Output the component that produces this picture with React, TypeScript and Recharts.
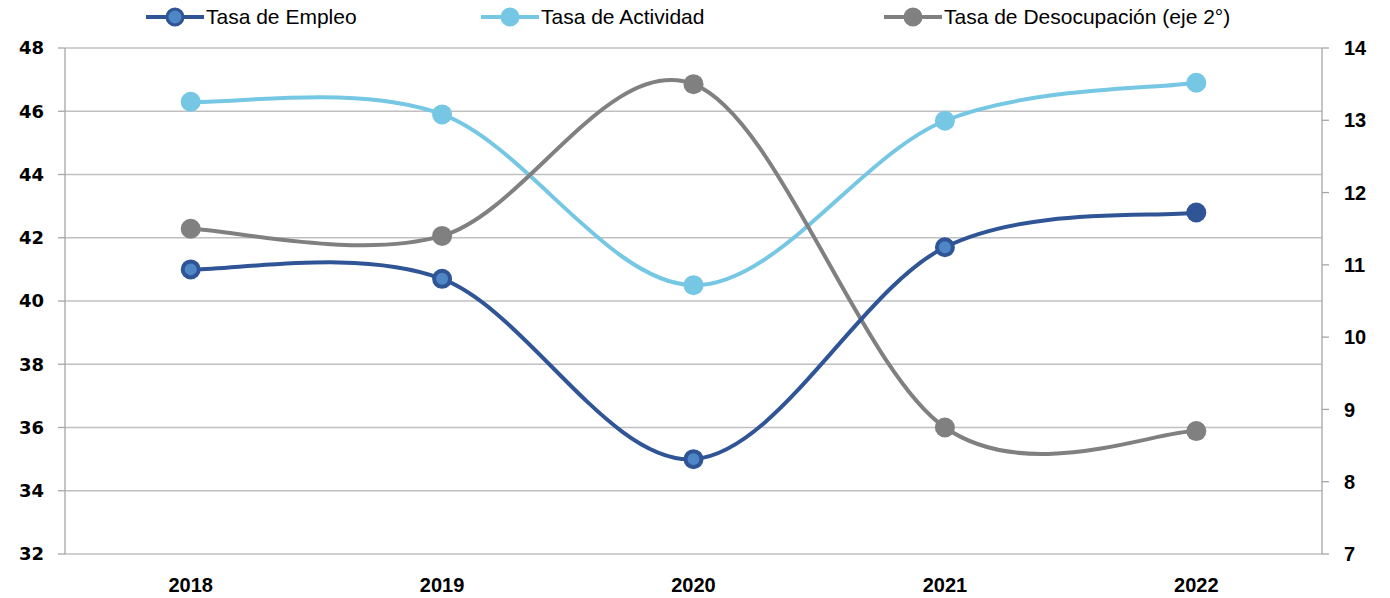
import { CartesianGrid, Legend, Line, LineChart, XAxis, YAxis } from "recharts";

const years = ["2018", "2019", "2020", "2021", "2022"];
const empleo = [41.0, 40.7, 35.0, 41.7, 42.8];
const actividad = [46.3, 45.9, 40.5, 45.7, 46.9];
const desocupacion = [11.5, 11.4, 13.5, 8.75, 8.7];

const leftTicks = [32, 34, 36, 38, 40, 42, 44, 46, 48];
const rightTicks = [7, 8, 9, 10, 11, 12, 13, 14];
const centerTicks = [0, 1, 2, 3, 4];
const edgeTicks = [-0.5, 0.5, 1.5, 2.5, 3.5, 4.5];

const DARK = "#2f5597";
const DARK_IN = "#4f86c6";
const LIGHT = "#75c7e3";
const GRAY = "#808080";
const AXIS = "#a6a6a6";
const GRID = "#c0c0c0";

const data = years.map((year, i) => ({
  i,
  year,
  empleo: empleo[i],
  actividad: actividad[i],
  desocupacion: desocupacion[i],
}));

// Excel-style smoothed line (Catmull-Rom through every point)
function excelSmooth(context: any) {
  let xs: number[] = [];
  let ys: number[] = [];
  return {
    areaStart() {},
    areaEnd() {},
    lineStart() {
      xs = [];
      ys = [];
    },
    point(x: number, y: number) {
      xs.push(+x);
      ys.push(+y);
    },
    lineEnd() {
      const n = xs.length;
      if (!n) return;
      context.moveTo(xs[0], ys[0]);
      for (let k = 0; k < n - 1; k++) {
        const a = Math.max(k - 1, 0);
        const d = Math.min(k + 2, n - 1);
        context.bezierCurveTo(
          xs[k] + (xs[k + 1] - xs[a]) / 6,
          ys[k] + (ys[k + 1] - ys[a]) / 6,
          xs[k + 1] - (xs[d] - xs[k]) / 6,
          ys[k + 1] - (ys[d] - ys[k]) / 6,
          xs[k + 1],
          ys[k + 1]
        );
      }
    },
  };
}

const legendItems = [
  { label: "Tasa de Empleo", color: DARK, inner: DARK_IN, left: 146 },
  { label: "Tasa de Actividad", color: LIGHT, inner: LIGHT, left: 481 },
  { label: "Tasa de Desocupación (eje 2°)", color: GRAY, inner: GRAY, left: 884 },
];

function ChartLegend() {
  return (
    <div style={{ position: "relative", width: 1390, height: 36 }}>
      {legendItems.map((it) => (
        <div
          key={it.label}
          style={{ position: "absolute", left: it.left, top: 5, display: "flex", alignItems: "center", gap: 2 }}
        >
          <svg width={58} height={24}>
            <line x1={0} y1={12} x2={58} y2={12} stroke={it.color} strokeWidth={4} />
            <circle cx={29} cy={12} r={8} fill={it.inner} stroke={it.color} strokeWidth={3} />
          </svg>
          <span style={{ fontFamily: "Liberation Sans, Arial, sans-serif", fontSize: 21, color: "#000" }}>
            {it.label}
          </span>
        </div>
      ))}
    </div>
  );
}

const leftTick = { fontFamily: "DejaVu Sans, Verdana, sans-serif", fontSize: 18, fontWeight: 700, fill: "#000" };
const rightTick = { fontFamily: "Liberation Sans, Arial, sans-serif", fontSize: 20, fontWeight: 700, fill: "#000" };

export default function App() {
  return (
    <div style={{ position: "absolute", left: 0, top: 0, width: 1390, height: 598, background: "#fff" }}>
      <LineChart width={1390} height={598} data={data} margin={{ top: 12, right: 0, bottom: 0, left: 0 }}>
        <CartesianGrid vertical={false} stroke={GRID} strokeWidth={1.3} xAxisId="lbl" yAxisId="left" />
        <XAxis
          xAxisId="edges"
          dataKey="i"
          type="number"
          domain={[-0.5, 4.5]}
          ticks={edgeTicks}
          height={0}
          tick={() => <g />}
          tickSize={7}
          stroke={AXIS}
          strokeWidth={1.3}
        />
        <XAxis
          xAxisId="lbl"
          dataKey="i"
          type="number"
          domain={[-0.5, 4.5]}
          ticks={centerTicks}
          tickFormatter={(v: number) => years[v]}
          height={44}
          axisLine={false}
          tickLine={false}
          tickMargin={18}
          tick={rightTick}
        />
        <YAxis
          yAxisId="left"
          orientation="left"
          domain={[32, 48]}
          ticks={leftTicks}
          width={65}
          tickSize={7}
          tickMargin={14}
          stroke={AXIS}
          strokeWidth={1.3}
          tick={leftTick}
          interval={0}
        />
        <YAxis
          yAxisId="right"
          orientation="right"
          domain={[7, 14]}
          ticks={rightTicks}
          width={68}
          tickSize={7}
          tickMargin={15}
          stroke={AXIS}
          strokeWidth={1.3}
          tick={rightTick}
          interval={0}
        />
        <Legend verticalAlign="top" height={36} content={() => <ChartLegend />} wrapperStyle={{ top: 0, left: 0, width: 1390 }} />
        <Line
          xAxisId="lbl"
          yAxisId="left"
          dataKey="actividad"
          type={excelSmooth as any}
          stroke={LIGHT}
          strokeWidth={4}
          isAnimationActive={false}
          dot={(p: any) => <circle key={`a${p.index}`} cx={p.cx} cy={p.cy} r={10} fill={LIGHT} />}
        />
        <Line
          xAxisId="lbl"
          yAxisId="right"
          dataKey="desocupacion"
          type={excelSmooth as any}
          stroke={GRAY}
          strokeWidth={4}
          isAnimationActive={false}
          dot={(p: any) => <circle key={`d${p.index}`} cx={p.cx} cy={p.cy} r={10} fill={GRAY} />}
        />
        <Line
          xAxisId="lbl"
          yAxisId="left"
          dataKey="empleo"
          type={excelSmooth as any}
          stroke={DARK}
          strokeWidth={4}
          isAnimationActive={false}
          dot={(p: any) => (
            <circle
              key={`e${p.index}`}
              cx={p.cx}
              cy={p.cy}
              r={p.index === 4 ? 10 : 8}
              fill={p.index === 4 ? DARK : DARK_IN}
              stroke={DARK}
              strokeWidth={p.index === 4 ? 0 : 4}
            />
          )}
        />
      </LineChart>
    </div>
  );
}
